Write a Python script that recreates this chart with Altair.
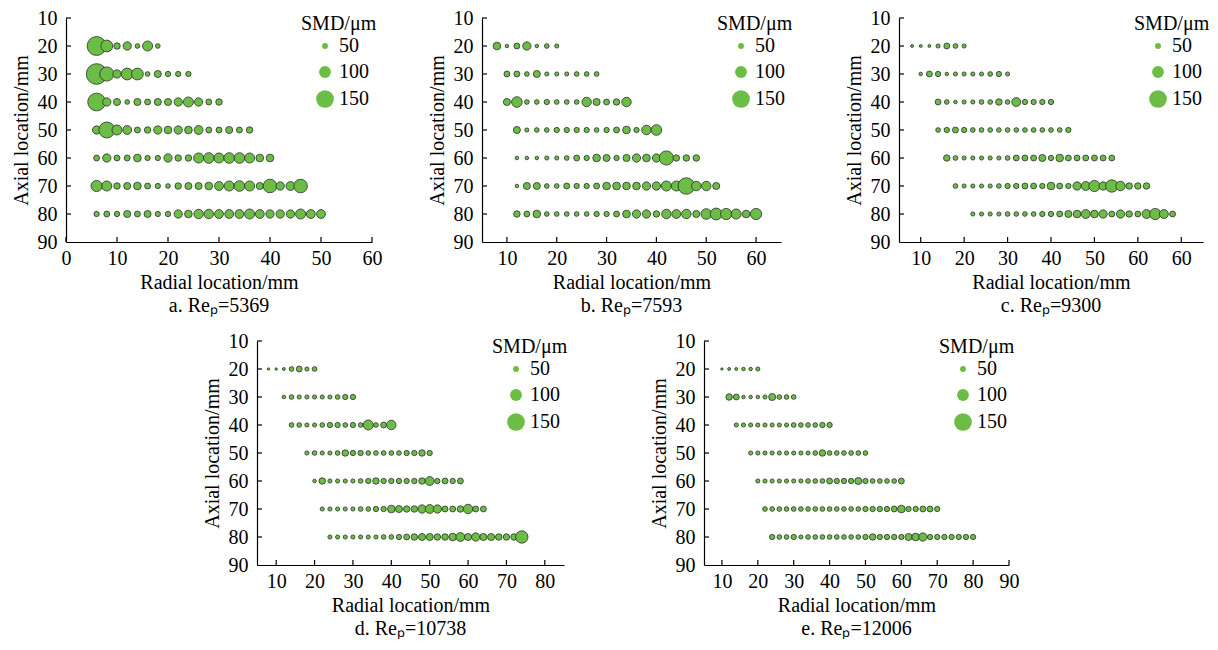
import altair as alt
import pandas as pd

GREEN = "#6cbd45"
EDGE = "#2f2f2f"
FONT = "Liberation Serif"

AXIAL = [20, 30, 40, 50, 60, 70, 80]
STEP = 2  # radial measurement spacing, mm

# ---- Panel a: Re_p = 5369 ----
a_start = [6, 6, 6, 6, 6, 6, 6]
a_smd = [
    [160, 100, 55, 70, 40, 85, 40],
    [175, 120, 70, 100, 100, 40, 60, 45, 45, 45],
    [150, 70, 60, 40, 60, 50, 60, 60, 70, 85, 70, 50, 55],
    [70, 135, 85, 75, 50, 55, 70, 65, 70, 65, 75, 50, 50, 60, 50, 55],
    [50, 70, 50, 50, 65, 45, 45, 70, 55, 55, 85, 90, 85, 90, 90, 85, 65, 65],
    [95, 85, 55, 60, 65, 50, 45, 40, 55, 60, 60, 65, 75, 85, 90, 85, 60, 115, 70, 75, 115],
    [45, 50, 45, 60, 50, 60, 45, 45, 70, 65, 80, 80, 75, 75, 75, 85, 75, 70, 70, 70, 85, 75, 75],
]
# ---- Panel b: Re_p = 7593 ----
b_start = [8, 10, 10, 12, 12, 12, 12]
b_smd = [
    [65, 30, 50, 70, 30, 40, 35],
    [50, 50, 40, 60, 35, 35, 35, 40, 40, 40],
    [60, 90, 40, 40, 45, 40, 40, 40, 80, 60, 50, 55, 80],
    [60, 35, 40, 40, 45, 45, 45, 45, 40, 45, 50, 65, 45, 80, 90],
    [30, 30, 30, 35, 35, 40, 50, 45, 65, 60, 45, 60, 70, 65, 70, 120, 55, 55, 55],
    [30, 60, 60, 40, 40, 50, 45, 45, 50, 65, 65, 65, 65, 70, 70, 85, 85, 140, 80, 80, 60],
    [55, 50, 65, 40, 40, 40, 40, 40, 45, 45, 50, 65, 70, 70, 55, 80, 75, 80, 60, 90, 100, 95, 85, 65, 95],
]
# ---- Panel c: Re_p = 9300 ----
c_start = [8, 10, 14, 14, 16, 18, 22]
c_smd = [
    [25, 25, 25, 35, 50, 40, 35],
    [30, 50, 45, 30, 35, 35, 35, 35, 40, 45, 35],
    [50, 40, 30, 35, 35, 40, 40, 55, 40, 75, 45, 45, 45, 45],
    [40, 45, 50, 45, 40, 40, 40, 40, 40, 40, 40, 40, 40, 40, 40, 45],
    [55, 40, 35, 35, 35, 35, 35, 40, 50, 50, 50, 60, 45, 65, 50, 50, 50, 50, 50, 50],
    [40, 35, 35, 35, 35, 40, 45, 45, 50, 50, 45, 65, 50, 45, 70, 75, 95, 70, 105, 80, 55, 55, 55],
    [35, 35, 35, 35, 40, 40, 40, 40, 45, 45, 50, 60, 65, 75, 65, 70, 50, 70, 55, 50, 75, 95, 75, 50],
]
# ---- Panel d: Re_p = 10738 ----
d_start = [8, 12, 14, 18, 20, 22, 24]
d_smd = [
    [20, 20, 25, 40, 50, 35, 40],
    [30, 40, 35, 35, 35, 35, 35, 40, 45, 45],
    [40, 40, 35, 35, 40, 45, 45, 40, 45, 40, 85, 40, 50, 80],
    [35, 40, 35, 35, 40, 55, 45, 45, 40, 40, 40, 40, 40, 45, 45, 55, 45],
    [30, 55, 35, 35, 35, 35, 40, 45, 55, 45, 45, 45, 45, 45, 55, 75, 45, 50, 45, 50],
    [35, 35, 35, 35, 35, 40, 40, 45, 45, 65, 60, 55, 55, 70, 75, 70, 50, 50, 55, 80, 50, 50],
    [35, 35, 35, 35, 35, 35, 35, 40, 40, 45, 50, 55, 60, 60, 55, 55, 65, 75, 60, 70, 60, 60, 55, 55, 55, 105],
]
# ---- Panel e: Re_p = 12006 ----
e_start = [10, 12, 14, 18, 20, 22, 24]
e_smd = [
    [20, 25, 25, 30, 30, 35],
    [55, 50, 30, 30, 30, 35, 60, 40, 40, 40],
    [35, 35, 35, 35, 35, 35, 35, 35, 40, 40, 40, 40, 45, 45],
    [35, 35, 35, 35, 35, 35, 35, 35, 35, 40, 55, 40, 40, 40, 40, 40, 40],
    [35, 35, 35, 35, 35, 35, 35, 40, 40, 40, 50, 45, 45, 45, 60, 45, 40, 40, 40, 40, 50],
    [40, 40, 40, 40, 40, 40, 40, 40, 40, 40, 40, 40, 40, 40, 45, 45, 45, 45, 50, 65, 45, 45, 50, 50, 45],
    [45, 40, 40, 45, 35, 40, 40, 40, 40, 40, 40, 40, 40, 45, 55, 45, 45, 45, 45, 60, 65, 70, 45, 45, 45, 45, 45, 45, 45],
]

Y_TICKS = [10, 20, 30, 40, 50, 60, 70, 80, 90]
LEGEND_VALUES = [50, 100, 150]
H = 224


def frame(starts, smds):
    rows = []
    for axial, s, vals in zip(AXIAL, starts, smds):
        for i, v in enumerate(vals):
            rows.append({"r": s + STEP * i, "a": axial, "smd": v})
    return pd.DataFrame(rows)


def panel(starts, smds, dom, xticks, width, caption, label_expr=None):
    df = frame(starts, smds)
    xs = alt.Scale(domain=dom, nice=False, zero=False)
    ys = alt.Scale(domain=[10, 90], reverse=True, nice=False, zero=False)
    xkw = dict(values=xticks, title="Radial location/mm", titlePadding=4, labelPadding=6)
    if label_expr:
        xkw["labelExpr"] = label_expr
    xaxis = alt.Axis(**xkw)
    yaxis = alt.Axis(values=Y_TICKS, title="Axial location/mm", titlePadding=6, labelPadding=9)
    legend = alt.Legend(values=LEGEND_VALUES, title="SMD/μm")
    pts = alt.Chart(df).mark_circle(
        fill=GREEN, stroke=EDGE, strokeWidth=0.8, opacity=1
    ).encode(
        x=alt.X("r:Q", scale=xs, axis=xaxis),
        y=alt.Y("a:Q", scale=ys, axis=yaxis),
        size=alt.Size(
            "smd:Q",
            scale=alt.Scale(type="pow", exponent=2, domain=[0, 150], range=[0, 314]),
            legend=legend,
        ),
    )
    xt = alt.Chart(pd.DataFrame({"r": xticks})).mark_rule(
        color="black", strokeWidth=1.2
    ).encode(x=alt.X("r:Q", scale=xs, axis=xaxis), y=alt.value(H), y2=alt.value(H - 5))
    yt = alt.Chart(pd.DataFrame({"a": Y_TICKS[:-1]})).mark_rule(
        color="black", strokeWidth=1.2
    ).encode(y=alt.Y("a:Q", scale=ys, axis=yaxis), x=alt.value(0), x2=alt.value(5))
    return alt.layer(pts, xt, yt).properties(
        width=width, height=H,
        title=alt.TitleParams(caption, orient="bottom", anchor="middle", offset=4),
    )


pa = panel(a_start, a_smd, [0, 60], [0, 10, 20, 30, 40, 50, 60], 306, "a. Reₚ=5369")
pb = panel(b_start, b_smd, [5, 65], [10, 20, 30, 40, 50, 60], 299, "b. Reₚ=7593")
pc = panel(c_start, c_smd, [5, 75], [10, 20, 30, 40, 50, 60, 70], 304, "c. Reₚ=9300",
           label_expr="datum.value == 70 ? '60' : datum.label")
pd_ = panel(d_start, d_smd, [5, 85], [10, 20, 30, 40, 50, 60, 70, 80], 307, "d. Reₚ=10738")
pe = panel(e_start, e_smd, [5, 90], [10, 20, 30, 40, 50, 60, 70, 80, 90], 305, "e. Reₚ=12006")


def indep(ch):
    return ch.resolve_scale(size="independent").resolve_legend(size="independent")


top = indep(alt.hconcat(pa, indep(alt.hconcat(pb, pc, spacing=51)), spacing=45))
bottom = indep(alt.hconcat(pd_, pe, spacing=81))

chart = indep(alt.vconcat(top, bottom, spacing=15, center=True)).properties(
    padding={"top": 0, "left": 3, "right": 0, "bottom": 0},
    background="white",
).configure_view(
    stroke=None
).configure_axis(
    ticks=False, tickSize=0, grid=False,
    domainColor="black", domainWidth=1.2,
    labelFont=FONT, labelFontSize=20, labelColor="black",
    labelOverlap=False, labelFlush=False,
    titleFont=FONT, titleFontSize=20, titleFontWeight="normal", titleColor="black",
).configure_legend(
    orient="none", legendX=235, legendY=-4, padding=0,
    symbolType="circle", symbolFillColor=GREEN, symbolStrokeColor=EDGE,
    symbolStrokeWidth=0.8, symbolOpacity=1, symbolOffset=14,
    labelOffset=4, rowPadding=6, titlePadding=2,
    titleFont=FONT, titleFontSize=20, titleFontWeight="normal",
    titleColor="black", labelFont=FONT, labelFontSize=20, labelColor="black",
).configure_title(
    font=FONT, fontSize=20, fontWeight="normal", color="black",
)

chart.save("out.html", embed_options={"renderer": "svg", "actions": False})
